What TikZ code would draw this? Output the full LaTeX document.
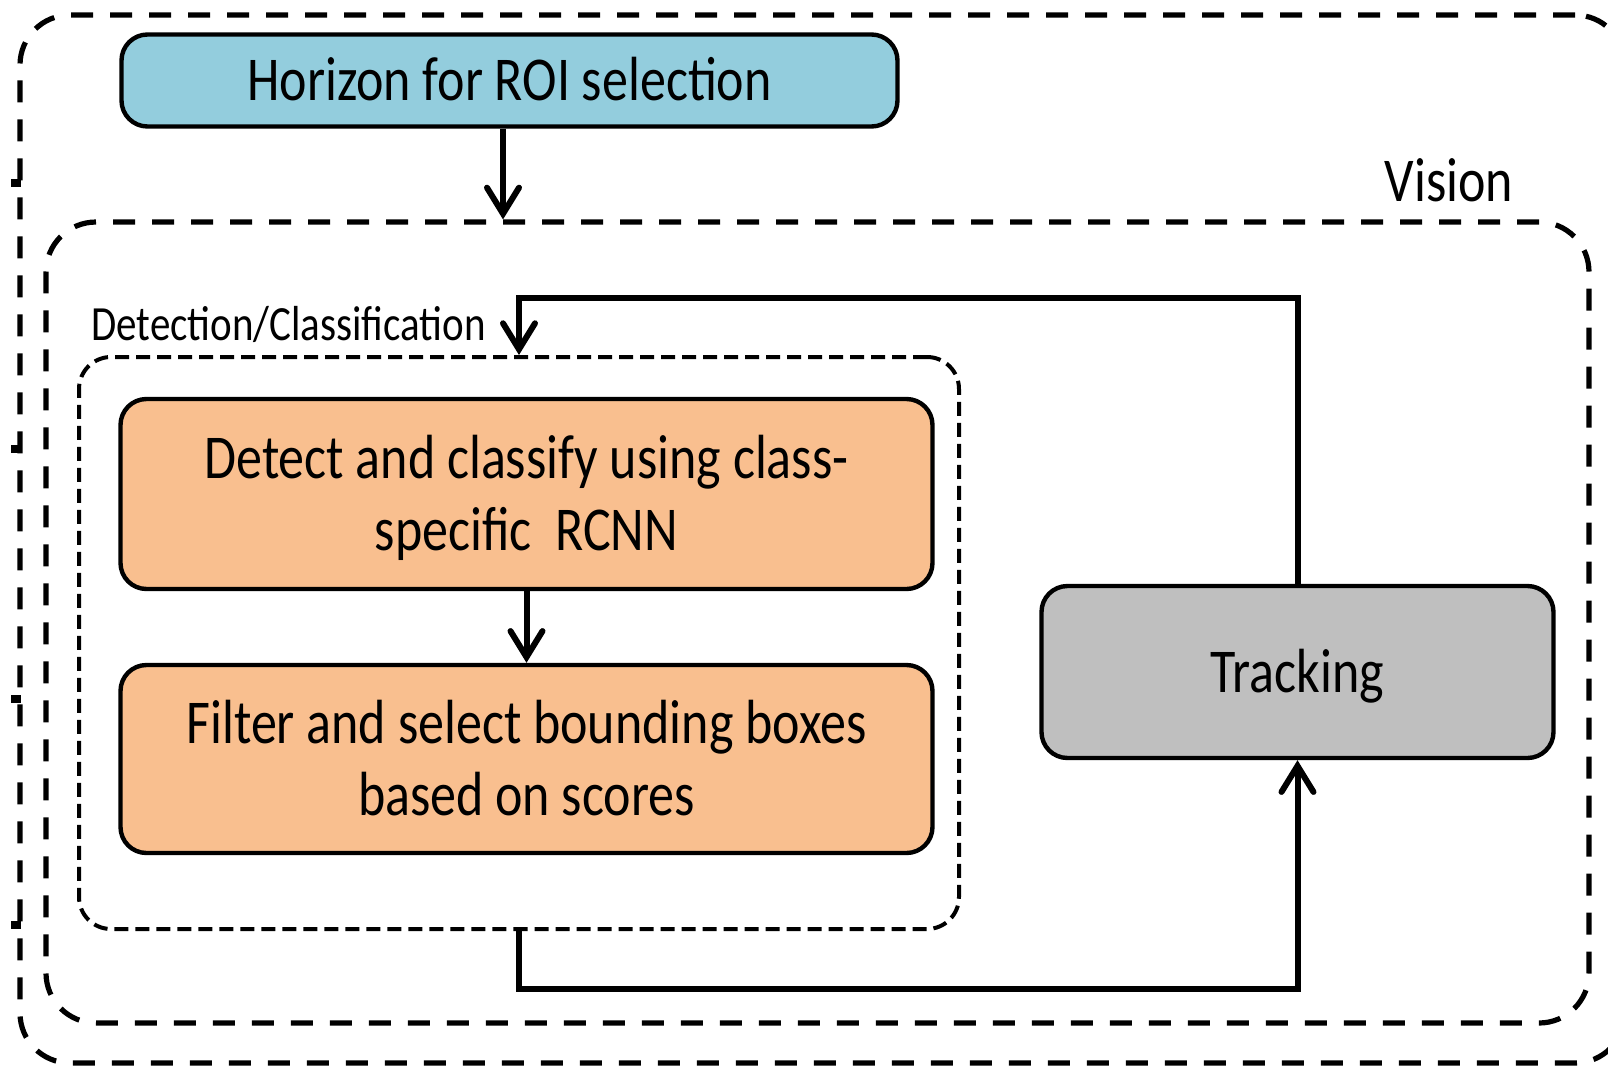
\documentclass[tikz,border=0pt]{standalone}
\usepackage{fontspec}
\usepackage{graphicx}
\setmainfont{Carlito}
\usetikzlibrary{arrows.meta,calc}

\definecolor{hzblue}{HTML}{93CDDD}
\definecolor{procorange}{HTML}{F9BF8F}
\definecolor{trkgray}{HTML}{BFBFBF}

% narrow, tall lettering: stretch the text block vertically and sit it a little lower
\newcommand\tallText[1]{\raisebox{-3pt}[\height][\depth]{\scalebox{1}[1.2]{\begin{tabular}{@{}c@{}}#1\end{tabular}}}}

\tikzset{
  procbox/.style={draw=black, line width=2.2pt, rounded corners=13pt,
    align=center, inner sep=0pt, font=\fontsize{26}{30}\selectfont},
  bigframe/.style={draw=black, line width=2.6pt, rounded corners=25pt,
    dash pattern=on 11pt off 8.5pt, inner sep=0pt},
  detframe/.style={draw=black, line width=2pt, rounded corners=16pt,
    dash pattern=on 7pt off 3.5pt, inner sep=0pt},
  conn/.style={draw=black, line width=3pt,
    -{Straight Barb[length=13pt,width=16pt,line cap=round]}},
  lbl/.style={inner sep=0pt, font=\fontsize{26}{30}\selectfont},
  smalllbl/.style={inner sep=0pt, font=\fontsize{20.5}{24}\selectfont},
  stub/.style={fill=black, draw=none}
}

\begin{document}
\begin{tikzpicture}[x=0.5pt, y=-0.5pt]
  \useasboundingbox (0,0) rectangle (1608,1067);

  % dashed containers
  \node[bigframe, minimum width=802.5pt, minimum height=524pt] (outer) at (822.5,539) {};
  \node[bigframe, minimum width=771.5pt, minimum height=400.5pt] (vis) at (817.5,622.5) {};
  \node[detframe, minimum width=440pt, minimum height=286pt] (det) at (519,643) {};

  % small marks on the outer frame
  \foreach \yy in {183,449,699,925}
    \fill[stub] (11,\yy-4) rectangle (21,\yy+4);

  % labels
  \node[lbl] (vislbl) at (1449,181) {\tallText{Vision}};
  \node[smalllbl, anchor=west] (detlbl) at (91,323) {\tallText{Detection/Classification}};

  % process boxes
  \node[procbox, fill=hzblue, minimum width=388pt, minimum height=46pt]
    (hz) at (509.5,80.5) {\tallText{Horizon for ROI selection}};
  \node[procbox, fill=procorange, minimum width=406pt, minimum height=95pt]
    (dc) at (526.5,494) {\tallText{Detect and classify using class-\\specific\ \ RCNN}};
  \node[procbox, fill=procorange, minimum width=406pt, minimum height=94pt]
    (fs) at (526.5,759) {\tallText{Filter and select bounding boxes\\based on scores}};
  \node[procbox, fill=trkgray, minimum width=256pt, minimum height=86pt]
    (trk) at (1297.5,672) {\tallText{Tracking}};

  % routing levels for the loop
  \coordinate (loopup) at (0,298);
  \coordinate (loopdown) at (0,989);

  % connectors
  \draw[conn] ([xshift=-3.25pt]hz.south) -- ([xshift=-3.25pt]hz.south |- vis.north);
  \draw[conn] (dc.south) -- (fs.north);
  \draw[conn] (trk.north) |- (det.north |- loopup) -- (det.north);
  \draw[conn] (det.south) |- (trk.south |- loopdown) -- (trk.south);
\end{tikzpicture}
\end{document}
